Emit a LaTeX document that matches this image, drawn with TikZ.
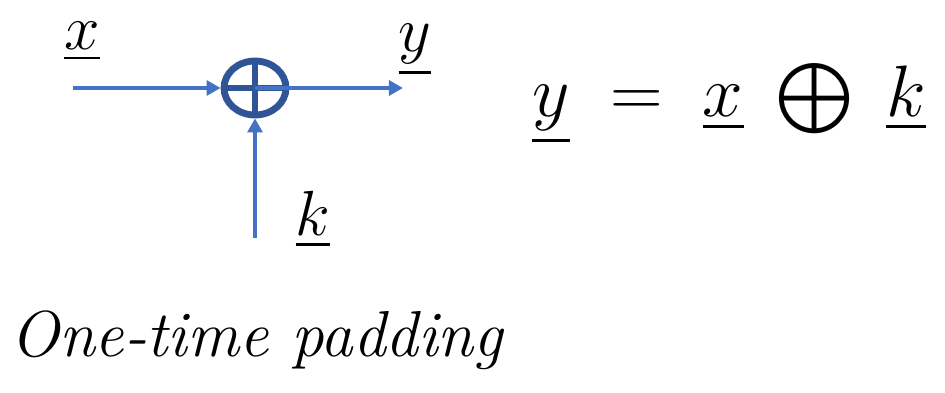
\documentclass[tikz,border=0pt]{standalone}
\usepackage{amsmath,amssymb}
\usepackage{graphicx}
\usetikzlibrary{arrows.meta,calc,positioning,shapes.geometric}
\definecolor{otpblue}{HTML}{4472C4}
\definecolor{otpnavy}{HTML}{2F5597}
\definecolor{otpink}{HTML}{000000}
\newcommand{\hsym}[1]{\scalebox{1.75}{$#1$}}
\tikzset{
  sigarrow/.style={-{Triangle[length=8pt,width=8.5pt]}, draw=otpblue, line width=2.8pt},
  xorgate/.style={
    ellipse,
    draw=otpnavy,
    line width=3.9pt,
    minimum width=1.24cm,
    minimum height=1.08cm,
    inner sep=0pt,
    path picture={
      \draw[otpnavy, line width=3pt]
        (path picture bounding box.north) -- (path picture bounding box.south)
        (path picture bounding box.west) -- (path picture bounding box.east);
    }
  },
  siglabel/.style={text=otpink, font=\fontsize{20}{24}\selectfont, inner sep=1pt},
  handnote/.style={text=otpink, font=\fontsize{37}{42}\selectfont\itshape, inner sep=0pt}
}
\begin{document}
\begin{tikzpicture}[x=0.02cm, y=-0.02cm]
  \useasboundingbox (0,0) rectangle (945,392);

  \node[xorgate] (xor) at (255,88) {};
  \coordinate (xin) at (73,88);
  \coordinate (yout) at (403,88);
  \coordinate (kin) at (255,238);

  \draw[sigarrow] (xin) -- (xor.west);
  \draw[sigarrow] (xor.center) -- (yout);
  \draw[sigarrow] (kin) -- (xor.south);

  \node[siglabel] (xlab) at (82,42) {\hsym{\underline{x}}};
  \node[siglabel] (ylab) at (415,50) {\hsym{\underline{y}}};
  \node[siglabel] (klab) at (313,220) {\hsym{\underline{k}}};

  % y = x (+) k
  \node[siglabel, anchor=west] (eqn) at (530,104) {\scalebox{2.0}{$\underline{y} \;=\; \underline{x} \;\bigoplus\; \underline{k}$}};

  \node[handnote, anchor=west] (title) at (10,340) {One-time padding};
\end{tikzpicture}
\end{document}
